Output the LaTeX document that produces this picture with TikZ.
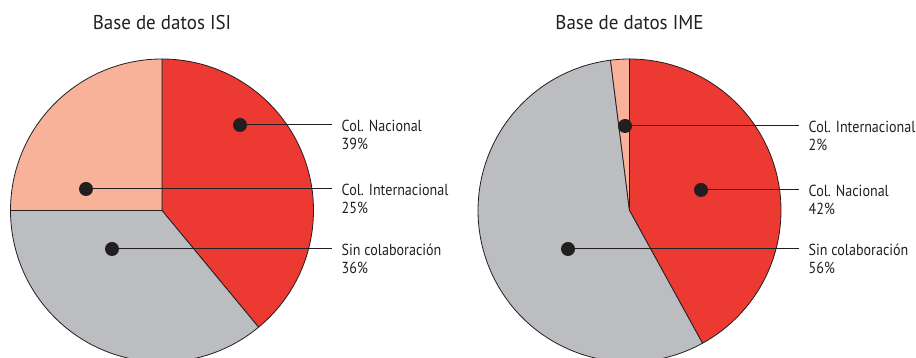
\documentclass[tikz,border=0pt]{standalone}
\usepackage{fontspec}
\setmainfont{PT Sans}
\newfontfamily\lblfont[FakeStretch=0.88]{PT Sans}
\newfontfamily\ttlfont[FakeStretch=0.95]{PT Sans}
\definecolor{pred}{HTML}{EC3A32}
\definecolor{psal}{HTML}{F8B29A}
\definecolor{pgray}{HTML}{BCBDC0}
\definecolor{ink}{HTML}{231F20}
\begin{document}
\begin{tikzpicture}[x=1pt,y=1pt,
  slice/.style={draw=ink,line width=0.8pt,line join=round},
  dot/.style={circle,fill=ink,inner sep=0pt,minimum size=14pt},
  lead/.style={draw=ink,line width=1pt},
  lbl/.style={anchor=base west,inner sep=0pt,text=ink,font=\lblfont\fontsize{16}{19}\selectfont},
  ttl/.style={anchor=base,inner sep=0pt,text=ink,font=\ttlfont\fontsize{20}{23}\selectfont}]
\useasboundingbox (0,0) rectangle (916,358);
\def\R{151.5}
% left pie
\coordinate (cL) at (162,147.5);
\fill[pred,slice] (cL) -- ++(90:\R) arc[start angle=90,end angle=-50.4,radius=\R] -- cycle;
\fill[pgray,slice] (cL) -- ++(-50.4:\R) arc[start angle=-50.4,end angle=-180,radius=\R] -- cycle;
\fill[psal,slice] (cL) -- ++(180:\R) arc[start angle=180,end angle=90,radius=\R] -- cycle;
% right pie
\coordinate (cR) at (629.5,147.5);
\fill[pred,slice] (cR) -- ++(90:\R) arc[start angle=90,end angle=-61.2,radius=\R] -- cycle;
\fill[pgray,slice] (cR) -- ++(-61.2:\R) arc[start angle=-61.2,end angle=-262.8,radius=\R] -- cycle;
\fill[psal,slice] (cR) -- ++(97.2:\R) arc[start angle=97.2,end angle=90,radius=\R] -- cycle;
% titles
\node[ttl] (tL) at (162,328) {Base de datos ISI};
\node[ttl] (tR) at (629.5,328) {Base de datos IME};
% left labels
\node[dot] (dLN) at (240,233) {};
\node[dot] (dLI) at (86,169) {};
\node[dot] (dLS) at (112,109) {};
\coordinate (eLN) at (332,233);
\coordinate (eLI) at (332,169);
\coordinate (eLS) at (332,109);
\draw[lead] (dLN) -- (eLN);
\draw[lead] (dLI) -- (eLI);
\draw[lead] (dLS) -- (eLS);
\node[lbl] (lLN) at (341.5,226.5) {Col. Nacional};
\node[lbl] (vLN) at (341.5,208) {39\%};
\node[lbl] (lLI) at (341.5,162.5) {Col. Internacional};
\node[lbl] (vLI) at (341.5,144) {25\%};
\node[lbl] (lLS) at (341.5,102.5) {Sin colaboración};
\node[lbl] (vLS) at (341.5,84) {36\%};
% right labels
\node[dot] (dRI) at (625,232) {};
\node[dot] (dRN) at (701,168) {};
\node[dot] (dRS) at (568,109) {};
\coordinate (eRI) at (799,232);
\coordinate (eRN) at (799,168);
\coordinate (eRS) at (799,109);
\draw[lead] (dRI) -- (eRI);
\draw[lead] (dRN) -- (eRN);
\draw[lead] (dRS) -- (eRS);
\node[lbl] (lRI) at (808.5,225.5) {Col. Internacional};
\node[lbl] (vRI) at (808.5,207) {2\%};
\node[lbl] (lRN) at (808.5,161.5) {Col. Nacional};
\node[lbl] (vRN) at (808.5,143) {42\%};
\node[lbl] (lRS) at (808.5,102.5) {Sin colaboración};
\node[lbl] (vRS) at (808.5,84) {56\%};
\end{tikzpicture}
\end{document}
